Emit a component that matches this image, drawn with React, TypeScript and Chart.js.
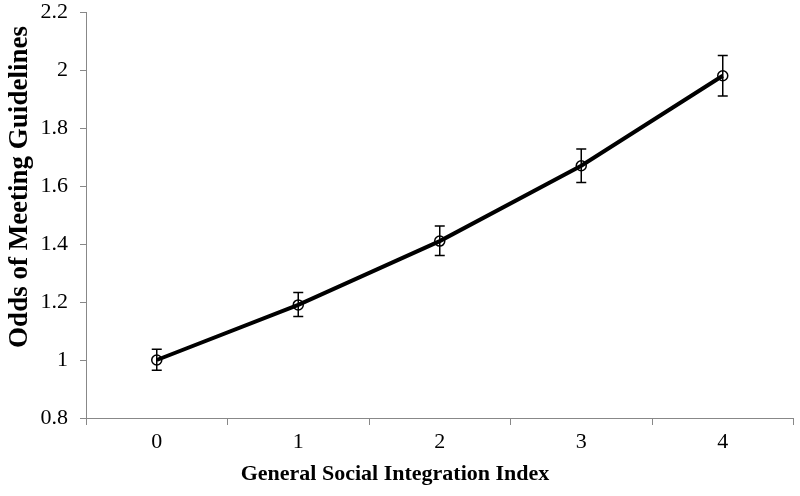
import React, { useEffect, useRef } from "react";
import { Chart, registerables } from "chart.js";

Chart.register(...registerables);

const categories = ["0", "1", "2", "3", "4"];
const odds = [1.0, 1.19, 1.41, 1.67, 1.98];
const errLow = [0.965, 1.15, 1.36, 1.612, 1.91];
const errHigh = [1.037, 1.233, 1.462, 1.728, 2.05];
const yTicks = [0.8, 1, 1.2, 1.4, 1.6, 1.8, 2, 2.2];
const xTitle = "General Social Integration Index";
const yTitle = "Odds of Meeting Guidelines";

const FONT = "'Liberation Serif', 'Times New Roman', serif";

const errorBarPlugin = {
  id: "errorBars",
  afterDatasetsDraw(chart: any) {
    const ctx = chart.ctx;
    const xs = chart.scales.x;
    const ys = chart.scales.y;
    ctx.save();
    ctx.strokeStyle = "#000";
    ctx.lineWidth = 1.5;
    for (let i = 0; i < categories.length; i++) {
      const x = xs.getPixelForValue(i);
      const yl = ys.getPixelForValue(errLow[i]);
      const yh = ys.getPixelForValue(errHigh[i]);
      ctx.beginPath();
      ctx.moveTo(x, yl);
      ctx.lineTo(x, yh);
      ctx.moveTo(x - 5, yl);
      ctx.lineTo(x + 5, yl);
      ctx.moveTo(x - 5, yh);
      ctx.lineTo(x + 5, yh);
      ctx.stroke();
    }
    ctx.restore();
  },
};

const axisTitlePlugin = {
  id: "axisTitles",
  afterDraw(chart: any) {
    const ctx = chart.ctx;
    const area = chart.chartArea;
    ctx.save();
    ctx.fillStyle = "#000";
    ctx.textAlign = "center";
    ctx.textBaseline = "middle";
    ctx.font = `bold 22px ${FONT}`;
    ctx.fillText(xTitle, chart.width / 2 - 5, area.bottom + 56);
    ctx.translate(20, area.top + (area.bottom - area.top) / 2 - 28);
    ctx.rotate(-Math.PI / 2);
    ctx.font = `bold 27px ${FONT}`;
    ctx.fillText(yTitle, 0, 0);
    ctx.restore();
  },
};

export default function App() {
  const ref = useRef<HTMLCanvasElement>(null);
  useEffect(() => {
    document.body.style.margin = "0";
    const chart = new Chart(ref.current as HTMLCanvasElement, {
      type: "line",
      data: {
        labels: categories,
        datasets: [
          {
            data: odds,
            borderColor: "#000",
            borderWidth: 4,
            pointRadius: 5,
            pointBorderWidth: 1.5,
            pointBorderColor: "#000",
            pointBackgroundColor: "rgba(255,255,255,0)",
            tension: 0,
          },
        ],
      },
      options: {
        animation: false,
        responsive: false,
        layout: { padding: { top: 12, right: 3, left: 0, bottom: 0 } },
        plugins: { legend: { display: false }, tooltip: { enabled: false } },
        scales: {
          x: {
            type: "category",
            offset: true,
            grid: {
              offset: true,
              drawOnChartArea: false,
              drawTicks: true,
              tickLength: 7,
              color: "#888",
            },
            border: { color: "#888", width: 1 },
            ticks: { color: "#000", font: { family: FONT, size: 22 }, padding: 4 },
            afterFit(scale: any) {
              scale.height = 78;
              scale.paddingLeft = 0;
              scale.paddingRight = 0;
            },
          },
          y: {
            min: 0.8,
            max: 2.2,
            afterBuildTicks(scale: any) {
              scale.ticks = yTicks.map((v) => ({ value: v }));
            },
            grid: {
              drawOnChartArea: false,
              drawTicks: true,
              tickLength: 6,
              color: "#888",
            },
            border: { color: "#888", width: 1 },
            ticks: {
              color: "#000",
              font: { family: FONT, size: 22 },
              padding: 12,
              callback: (v: any) => String(Math.round(Number(v) * 10) / 10),
            },
            afterFit(scale: any) {
              scale.width = 86;
              scale.paddingTop = 0;
              scale.paddingBottom = 0;
            },
          },
        },
      },
      plugins: [errorBarPlugin, axisTitlePlugin],
    } as any);
    return () => chart.destroy();
  }, []);
  return (
    <div style={{ width: 800, height: 496 }}>
      <canvas ref={ref} width={800} height={496} />
    </div>
  );
}
